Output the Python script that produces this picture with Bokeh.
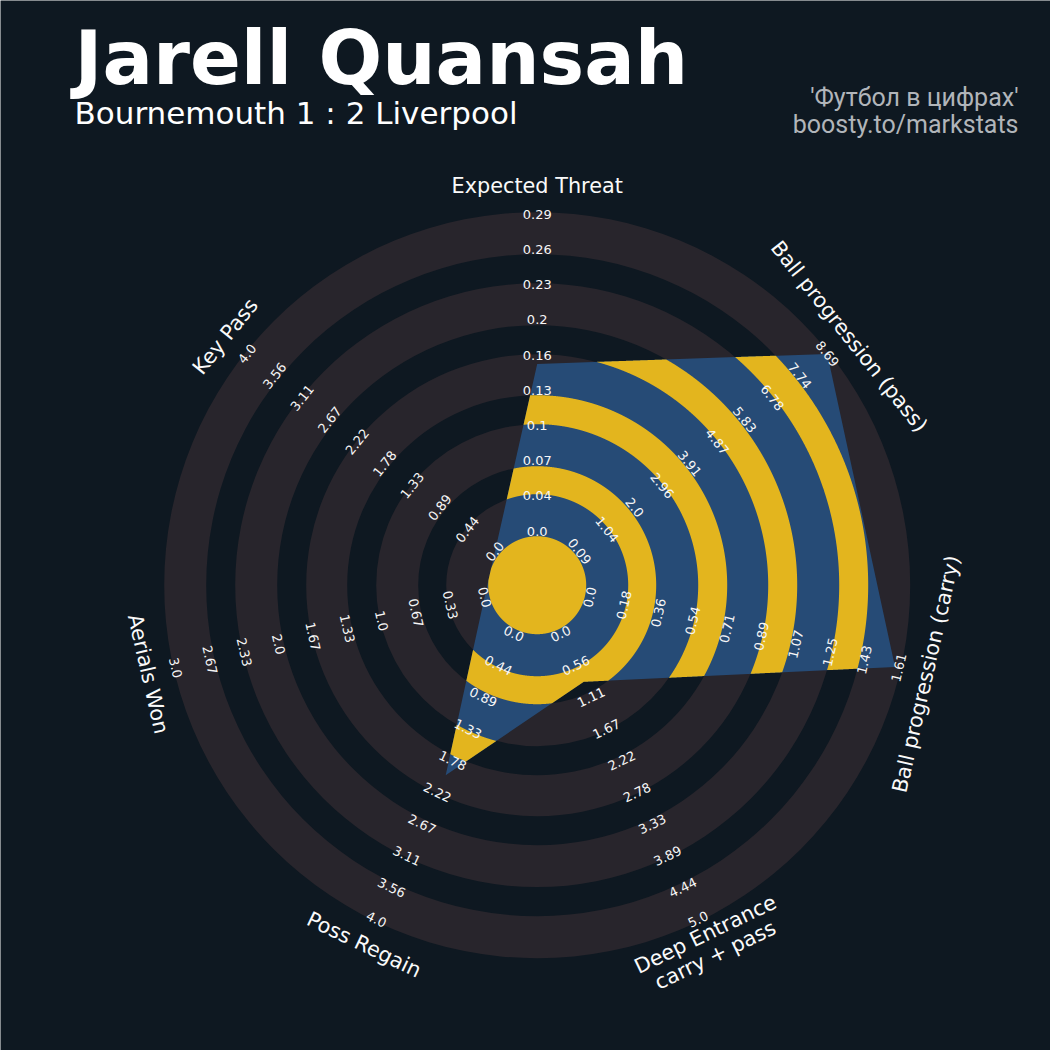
import numpy as np
from bokeh.plotting import figure
from bokeh.models import Range1d
from bokeh.embed import file_html
from bokeh.resources import INLINE
from bokeh.core.properties import value

# ---------------- data ----------------
params = ["Expected Threat", "Ball progression (pass)", "Ball progression (carry)",
          "Deep Entrance\ncarry + pass", "Poss Regain", "Aerials Won", "Key Pass"]
player_values = [0.153, 8.69, 1.59, 0.84, 1.98, 0.0, 0.0]
range_low = [0.0, 0.09, 0.0, 0.0, 0.0, 0.0, 0.0]
range_high = [0.29, 8.69, 1.61, 5.0, 4.0, 3.0, 4.0]
tick_labels = [
    ["0.0", "0.04", "0.07", "0.1", "0.13", "0.16", "0.2", "0.23", "0.26", "0.29"],
    ["0.09", "1.04", "2.0", "2.96", "3.91", "4.87", "5.83", "6.78", "7.74", "8.69"],
    ["0.0", "0.18", "0.36", "0.54", "0.71", "0.89", "1.07", "1.25", "1.43", "1.61"],
    ["0.0", "0.56", "1.11", "1.67", "2.22", "2.78", "3.33", "3.89", "4.44", "5.0"],
    ["0.0", "0.44", "0.89", "1.33", "1.78", "2.22", "2.67", "3.11", "3.56", "4.0"],
    ["0.0", "0.33", "0.67", "1.0", "1.33", "1.67", "2.0", "2.33", "2.67", "3.0"],
    ["0.0", "0.44", "0.89", "1.33", "1.78", "2.22", "2.67", "3.11", "3.56", "4.0"],
]
title_text = "Jarell Quansah"
subtitle_text = "Bournemouth 1 : 2 Liverpool"
credit_lines = ["'Футбол в цифрах'", "boosty.to/markstats"]

# ---------------- style / geometry ----------------
BG = "#0e1821"
RING = "#28252c"
POLY = "#264b76"
YELLOW = "#e3b51e"
GREY = "#b1b5ba"

W = H = 1050
OFF = 0                        # page offset of the canvas
CX, CY = 536.7, 584.7          # radar centre in page pixels
R_MIN, R_MAX = 54.0, 371.0     # radius of min / max value
R_PARAM = 399.0
ring_bands = [(48, 91), (119, 161), (190, 231), (260, 302), (331, 373)]
gap_bands = [(0, 49), (91, 119), (161, 190), (231, 260), (302, 331)]

p = figure(width=W, height=H, output_backend="svg", toolbar_location=None,
           x_range=Range1d(OFF - CX, OFF + W - CX), y_range=Range1d(CY - OFF - H, CY - OFF),
           min_border=0)
p.background_fill_color = BG
p.border_fill_color = BG
p.outline_line_color = None
p.axis.visible = False
p.grid.visible = False

n = len(params)
ang_deg = 90 - np.arange(n) * 360.0 / n
ang = np.deg2rad(ang_deg)
rot_deg = np.mod(ang_deg, 180) - 90

# rings
for a, b in ring_bands:
    p.annulus(x=0, y=0, inner_radius=a, outer_radius=b, fill_color=RING, line_color=None)

# radar polygon
vals = np.array(player_values, float)
lo = np.array(range_low, float)
hi = np.array(range_high, float)
frac = np.clip((vals - lo) / (hi - lo), 0, 1)
rv = R_MIN + frac * (R_MAX - R_MIN)
vx = rv * np.cos(ang)
vy = rv * np.sin(ang)
p.patch(x=list(vx), y=list(vy), fill_color=POLY, line_color=None)

# radial extent of polygon per angle
th = np.linspace(-np.pi, np.pi, 7200, endpoint=False)
th = np.unique(np.concatenate([th, np.mod(ang + np.pi, 2 * np.pi) - np.pi]))
dx, dy = np.cos(th), np.sin(th)
P = np.stack([vx, vy], 1)
Q = np.roll(P, -1, 0)
E = Q - P
crossPE = P[:, 0] * E[:, 1] - P[:, 1] * E[:, 0]
crossdE = dx[:, None] * E[None, :, 1] - dy[:, None] * E[None, :, 0]
crossPd = P[None, :, 0] * dy[:, None] - P[None, :, 1] * dx[:, None]
with np.errstate(divide="ignore", invalid="ignore"):
    rr = crossPE[None, :] / crossdE
    ss = crossPd / crossdE
valid = (ss >= -1e-9) & (ss <= 1 + 1e-9) & (rr > 0) & np.isfinite(rr)
rr = np.where(valid, rr, np.inf)
Rth = rr.min(1)

xs_all, ys_all = [], []
for a, b in gap_bands:
    outer = np.minimum(b, Rth)
    mask = Rth > a + 0.01
    if mask.all():
        ox = list(outer * dx)
        oy = list(outer * dy)
        if a > 0:
            hx = list(a * dx[::-1])
            hy = list(a * dy[::-1])
            xs_all.append([[ox, hx]])
            ys_all.append([[oy, hy]])
        else:
            xs_all.append([[ox]])
            ys_all.append([[oy]])
        continue
    i0 = int(np.argmin(mask))
    idx = np.roll(np.arange(len(th)), -i0)
    m = mask[idx]
    k = 0
    while k < len(m):
        if m[k]:
            j = k
            while j < len(m) and m[j]:
                j += 1
            ids = idx[k:j]
            ox = outer[ids] * dx[ids]
            oy = outer[ids] * dy[ids]
            ix = a * dx[ids][::-1]
            iy = a * dy[ids][::-1]
            xs_all.append([[list(np.concatenate([ox, ix]))]])
            ys_all.append([[list(np.concatenate([oy, iy]))]])
            k = j
        else:
            k += 1
p.multi_polygons(xs=xs_all, ys=ys_all, fill_color=YELLOW, line_color=None)

# range labels
lr = np.linspace(R_MIN, R_MAX, 10)
tx, ty, tt, ta = [], [], [], []
for i in range(n):
    for k in range(10):
        tx.append(lr[k] * np.cos(ang[i]))
        ty.append(lr[k] * np.sin(ang[i]))
        tt.append(tick_labels[i][k])
        ta.append(rot_deg[i])
p.text(x=tx, y=ty, text=tt, angle=ta, angle_units="deg", text_align="center",
       text_baseline="middle", text_font=value("DejaVu Sans"), text_font_size="13px",
       text_color="#f6f6f6")

# parameter labels
px_, py_, pt_, pa_ = [], [], [], []
for i in range(n):
    lines = params[i].split("\n")
    rot = np.deg2rad(rot_deg[i])
    ux, uy = -np.sin(rot), np.cos(rot)
    bx, by = R_PARAM * np.cos(ang[i]), R_PARAM * np.sin(ang[i])
    nl = len(lines)
    for k, ln in enumerate(lines):
        off = (nl - 1 - 2 * k) / 2.0 * 23.0
        px_.append(bx + ux * off)
        py_.append(by + uy * off)
        pt_.append(ln)
        pa_.append(rot_deg[i])
p.text(x=px_, y=py_, text=pt_, angle=pa_, angle_units="deg", text_align="center",
       text_baseline="middle", text_font=value("DejaVu Sans"), text_font_size="20.8px",
       text_color="#fafafa")

# titles
p.text(x=[74 - CX], y=[CY - 57], text=[title_text], text_align="left",
       text_baseline="middle", text_font=value("DejaVu Sans"), text_font_size="75px",
       text_font_style="bold", text_color="white")
p.text(x=[74 - CX], y=[CY - 112], text=[subtitle_text], text_align="left",
       text_baseline="middle", text_font=value("DejaVu Sans"), text_font_size="31px",
       text_color="white")
p.text(x=[1018 - CX, 1018 - CX], y=[CY - 97, CY - 124], text=credit_lines,
       text_align="right", text_baseline="middle", text_font=value("Roboto"),
       text_font_size="25px", text_color=GREY)

html = file_html(p, INLINE, title="radar")
html = html.replace("<body>", '<body style="background-color:%s;">' % BG, 1)
open("out.html", "w").write(html)
